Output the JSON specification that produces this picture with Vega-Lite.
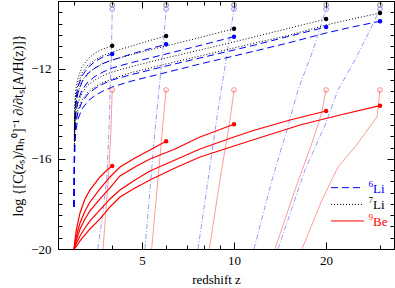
{
"$schema":"https://vega.github.io/schema/vega-lite/v6.json",
"width":336,"height":248,
"autosize":{"type":"none"},
"padding":{"left":58,"top":1,"right":1,"bottom":39},
"config":{"view":{"stroke":"#000","strokeWidth":1},"font":"Liberation Serif"},
"datasets":{
"curves":[
{"s":"li7","c":4,"z":3.007,"v":-14.721},{"s":"li7","c":4,"z":3.023,"v":-13.39},{"s":"li7","c":4,"z":3.046,"v":-12.858},{"s":"li7","c":4,"z":3.092,"v":-12.415},{"s":"li7","c":4,"z":3.186,"v":-11.927},{"s":"li7","c":4,"z":3.333,"v":-11.572},{"s":"li7","c":4,"z":3.514,"v":-11.306},{"s":"li7","c":4,"z":3.732,"v":-11.129},{"s":"li7","c":4,"z":4,"v":-10.982},
{"s":"li7","c":6,"z":3.007,"v":-14.942},{"s":"li7","c":6,"z":3.023,"v":-13.656},{"s":"li7","c":6,"z":3.046,"v":-13.124},{"s":"li7","c":6,"z":3.092,"v":-12.681},{"s":"li7","c":6,"z":3.186,"v":-12.193},{"s":"li7","c":6,"z":3.333,"v":-11.838},{"s":"li7","c":6,"z":3.514,"v":-11.616},{"s":"li7","c":6,"z":3.732,"v":-11.417},{"s":"li7","c":6,"z":4,"v":-11.262},{"s":"li7","c":6,"z":4.572,"v":-11.018},{"s":"li7","c":6,"z":5.314,"v":-10.752},{"s":"li7","c":6,"z":6,"v":-10.552},
{"s":"li7","c":10,"z":3.007,"v":-15.164},{"s":"li7","c":10,"z":3.023,"v":-13.967},{"s":"li7","c":10,"z":3.046,"v":-13.479},{"s":"li7","c":10,"z":3.092,"v":-13.035},{"s":"li7","c":10,"z":3.186,"v":-12.548},{"s":"li7","c":10,"z":3.333,"v":-12.193},{"s":"li7","c":10,"z":3.514,"v":-11.971},{"s":"li7","c":10,"z":3.732,"v":-11.772},{"s":"li7","c":10,"z":4,"v":-11.616},{"s":"li7","c":10,"z":4.572,"v":-11.395},{"s":"li7","c":10,"z":5.314,"v":-11.173},{"s":"li7","c":10,"z":6,"v":-10.996},{"s":"li7","c":10,"z":7.743,"v":-10.619},{"s":"li7","c":10,"z":10,"v":-10.228},
{"s":"li7","c":20,"z":3.007,"v":-15.386},{"s":"li7","c":20,"z":3.023,"v":-14.366},{"s":"li7","c":20,"z":3.046,"v":-13.922},{"s":"li7","c":20,"z":3.092,"v":-13.523},{"s":"li7","c":20,"z":3.186,"v":-13.08},{"s":"li7","c":20,"z":3.333,"v":-12.725},{"s":"li7","c":20,"z":3.514,"v":-12.503},{"s":"li7","c":20,"z":3.732,"v":-12.304},{"s":"li7","c":20,"z":4,"v":-12.149},{"s":"li7","c":20,"z":4.572,"v":-11.927},{"s":"li7","c":20,"z":5.314,"v":-11.705},{"s":"li7","c":20,"z":6,"v":-11.528},{"s":"li7","c":20,"z":7.743,"v":-11.173},{"s":"li7","c":20,"z":10,"v":-10.818},{"s":"li7","c":20,"z":11.713,"v":-10.583},{"s":"li7","c":20,"z":15.239,"v":-10.197},{"s":"li7","c":20,"z":20,"v":-9.798},
{"s":"li7","c":30,"z":3.007,"v":-15.608},{"s":"li7","c":30,"z":3.023,"v":-14.676},{"s":"li7","c":30,"z":3.046,"v":-14.233},{"s":"li7","c":30,"z":3.092,"v":-13.834},{"s":"li7","c":30,"z":3.186,"v":-13.39},{"s":"li7","c":30,"z":3.333,"v":-13.035},{"s":"li7","c":30,"z":3.514,"v":-12.814},{"s":"li7","c":30,"z":3.732,"v":-12.614},{"s":"li7","c":30,"z":4,"v":-12.459},{"s":"li7","c":30,"z":4.572,"v":-12.193},{"s":"li7","c":30,"z":5.314,"v":-11.971},{"s":"li7","c":30,"z":6,"v":-11.794},{"s":"li7","c":30,"z":7.743,"v":-11.439},{"s":"li7","c":30,"z":10,"v":-11.084},{"s":"li7","c":30,"z":11.713,"v":-10.863},{"s":"li7","c":30,"z":15.239,"v":-10.508},{"s":"li7","c":30,"z":20,"v":-10.064},{"s":"li7","c":30,"z":23.934,"v":-9.82},{"s":"li7","c":30,"z":30,"v":-9.532},

{"s":"li6","c":4,"z":3.0,"v":-18.135},{"s":"li6","c":4,"z":3.011,"v":-15.164},{"s":"li6","c":4,"z":3.023,"v":-13.922},{"s":"li6","c":4,"z":3.046,"v":-13.302},{"s":"li6","c":4,"z":3.092,"v":-12.814},{"s":"li6","c":4,"z":3.186,"v":-12.326},{"s":"li6","c":4,"z":3.333,"v":-11.949},{"s":"li6","c":4,"z":3.514,"v":-11.683},{"s":"li6","c":4,"z":3.732,"v":-11.483},{"s":"li6","c":4,"z":4,"v":-11.35},
{"s":"li6","c":6,"z":3.0,"v":-18.135},{"s":"li6","c":6,"z":3.011,"v":-15.386},{"s":"li6","c":6,"z":3.023,"v":-14.188},{"s":"li6","c":6,"z":3.046,"v":-13.568},{"s":"li6","c":6,"z":3.092,"v":-13.08},{"s":"li6","c":6,"z":3.186,"v":-12.592},{"s":"li6","c":6,"z":3.333,"v":-12.215},{"s":"li6","c":6,"z":3.514,"v":-11.971},{"s":"li6","c":6,"z":3.732,"v":-11.772},{"s":"li6","c":6,"z":4,"v":-11.616},{"s":"li6","c":6,"z":4.572,"v":-11.373},{"s":"li6","c":6,"z":5.314,"v":-11.115},{"s":"li6","c":6,"z":6,"v":-10.92},
{"s":"li6","c":10,"z":3.0,"v":-18.135},{"s":"li6","c":10,"z":3.011,"v":-15.608},{"s":"li6","c":10,"z":3.023,"v":-14.499},{"s":"li6","c":10,"z":3.046,"v":-13.922},{"s":"li6","c":10,"z":3.092,"v":-13.435},{"s":"li6","c":10,"z":3.186,"v":-12.947},{"s":"li6","c":10,"z":3.333,"v":-12.592},{"s":"li6","c":10,"z":3.514,"v":-12.348},{"s":"li6","c":10,"z":3.732,"v":-12.149},{"s":"li6","c":10,"z":4,"v":-11.971},{"s":"li6","c":10,"z":4.572,"v":-11.749},{"s":"li6","c":10,"z":5.314,"v":-11.528},{"s":"li6","c":10,"z":6,"v":-11.35},{"s":"li6","c":10,"z":7.743,"v":-10.973},{"s":"li6","c":10,"z":10,"v":-10.583},
{"s":"li6","c":20,"z":3.0,"v":-18.135},{"s":"li6","c":20,"z":3.011,"v":-15.962},{"s":"li6","c":20,"z":3.023,"v":-14.898},{"s":"li6","c":20,"z":3.046,"v":-14.366},{"s":"li6","c":20,"z":3.092,"v":-13.922},{"s":"li6","c":20,"z":3.186,"v":-13.479},{"s":"li6","c":20,"z":3.333,"v":-13.124},{"s":"li6","c":20,"z":3.514,"v":-12.88},{"s":"li6","c":20,"z":3.732,"v":-12.681},{"s":"li6","c":20,"z":4,"v":-12.503},{"s":"li6","c":20,"z":4.572,"v":-12.282},{"s":"li6","c":20,"z":5.314,"v":-12.06},{"s":"li6","c":20,"z":6,"v":-11.882},{"s":"li6","c":20,"z":7.743,"v":-11.528},{"s":"li6","c":20,"z":10,"v":-11.173},{"s":"li6","c":20,"z":11.713,"v":-10.951},{"s":"li6","c":20,"z":15.239,"v":-10.552},{"s":"li6","c":20,"z":20,"v":-10.153},
{"s":"li6","c":30,"z":3.0,"v":-18.135},{"s":"li6","c":30,"z":3.011,"v":-16.273},{"s":"li6","c":30,"z":3.023,"v":-15.253},{"s":"li6","c":30,"z":3.046,"v":-14.721},{"s":"li6","c":30,"z":3.092,"v":-14.233},{"s":"li6","c":30,"z":3.186,"v":-13.789},{"s":"li6","c":30,"z":3.333,"v":-13.435},{"s":"li6","c":30,"z":3.514,"v":-13.191},{"s":"li6","c":30,"z":3.732,"v":-12.991},{"s":"li6","c":30,"z":4,"v":-12.814},{"s":"li6","c":30,"z":4.572,"v":-12.57},{"s":"li6","c":30,"z":5.314,"v":-12.348},{"s":"li6","c":30,"z":6,"v":-12.171},{"s":"li6","c":30,"z":7.743,"v":-11.794},{"s":"li6","c":30,"z":10,"v":-11.439},{"s":"li6","c":30,"z":11.713,"v":-11.217},{"s":"li6","c":30,"z":15.239,"v":-10.84},{"s":"li6","c":30,"z":20,"v":-10.419},{"s":"li6","c":30,"z":23.934,"v":-10.175},{"s":"li6","c":30,"z":30,"v":-9.9},

{"s":"be9","c":4,"z":3.0,"v":-20},{"s":"be9","c":4,"z":3.023,"v":-19.599},{"s":"be9","c":4,"z":3.046,"v":-19.244},{"s":"be9","c":4,"z":3.092,"v":-18.8},{"s":"be9","c":4,"z":3.139,"v":-18.401},{"s":"be9","c":4,"z":3.259,"v":-17.78},{"s":"be9","c":4,"z":3.384,"v":-17.381},{"s":"be9","c":4,"z":3.648,"v":-16.805},{"s":"be9","c":4,"z":3.817,"v":-16.539},{"s":"be9","c":4,"z":4,"v":-16.317},
{"s":"be9","c":6,"z":3.0,"v":-20},{"s":"be9","c":6,"z":3.023,"v":-19.732},{"s":"be9","c":6,"z":3.046,"v":-19.51},{"s":"be9","c":6,"z":3.092,"v":-19.155},{"s":"be9","c":6,"z":3.139,"v":-18.845},{"s":"be9","c":6,"z":3.259,"v":-18.313},{"s":"be9","c":6,"z":3.384,"v":-17.914},{"s":"be9","c":6,"z":3.648,"v":-17.337},{"s":"be9","c":6,"z":3.933,"v":-16.805},{"s":"be9","c":6,"z":4.241,"v":-16.361},{"s":"be9","c":6,"z":4.747,"v":-15.962},{"s":"be9","c":6,"z":5.314,"v":-15.608},{"s":"be9","c":6,"z":6,"v":-15.222},
{"s":"be9","c":10,"z":3.0,"v":-20},{"s":"be9","c":10,"z":3.023,"v":-19.82},{"s":"be9","c":10,"z":3.046,"v":-19.643},{"s":"be9","c":10,"z":3.092,"v":-19.377},{"s":"be9","c":10,"z":3.139,"v":-19.111},{"s":"be9","c":10,"z":3.259,"v":-18.667},{"s":"be9","c":10,"z":3.384,"v":-18.313},{"s":"be9","c":10,"z":3.648,"v":-17.78},{"s":"be9","c":10,"z":3.933,"v":-17.293},{"s":"be9","c":10,"z":4.241,"v":-16.761},{"s":"be9","c":10,"z":4.747,"v":-16.361},{"s":"be9","c":10,"z":5.314,"v":-16.007},{"s":"be9","c":10,"z":6.414,"v":-15.563},{"s":"be9","c":10,"z":7.743,"v":-15.031},{"s":"be9","c":10,"z":10,"v":-14.468},
{"s":"be9","c":20,"z":3.0,"v":-20},{"s":"be9","c":20,"z":3.023,"v":-19.909},{"s":"be9","c":20,"z":3.046,"v":-19.777},{"s":"be9","c":20,"z":3.092,"v":-19.599},{"s":"be9","c":20,"z":3.139,"v":-19.421},{"s":"be9","c":20,"z":3.259,"v":-19.067},{"s":"be9","c":20,"z":3.384,"v":-18.756},{"s":"be9","c":20,"z":3.648,"v":-18.268},{"s":"be9","c":20,"z":3.933,"v":-17.78},{"s":"be9","c":20,"z":4.241,"v":-17.381},{"s":"be9","c":20,"z":4.747,"v":-16.938},{"s":"be9","c":20,"z":5.314,"v":-16.539},{"s":"be9","c":20,"z":6.414,"v":-16.051},{"s":"be9","c":20,"z":7.743,"v":-15.563},{"s":"be9","c":20,"z":10,"v":-15.031},{"s":"be9","c":20,"z":11.713,"v":-14.721},{"s":"be9","c":20,"z":15.239,"v":-14.277},{"s":"be9","c":20,"z":20,"v":-13.878},
{"s":"be9","c":30,"z":3.0,"v":-20},{"s":"be9","c":30,"z":3.046,"v":-19.909},{"s":"be9","c":30,"z":3.092,"v":-19.777},{"s":"be9","c":30,"z":3.139,"v":-19.643},{"s":"be9","c":30,"z":3.259,"v":-19.377},{"s":"be9","c":30,"z":3.384,"v":-19.111},{"s":"be9","c":30,"z":3.648,"v":-18.667},{"s":"be9","c":30,"z":3.933,"v":-18.135},{"s":"be9","c":30,"z":4.241,"v":-17.692},{"s":"be9","c":30,"z":4.747,"v":-17.293},{"s":"be9","c":30,"z":5.314,"v":-16.938},{"s":"be9","c":30,"z":6.414,"v":-16.406},{"s":"be9","c":30,"z":7.743,"v":-15.918},{"s":"be9","c":30,"z":10,"v":-15.43},{"s":"be9","c":30,"z":11.713,"v":-15.133},{"s":"be9","c":30,"z":16.434,"v":-14.499},{"s":"be9","c":30,"z":22.205,"v":-14.055},{"s":"be9","c":30,"z":30,"v":-13.643},

{"s":"li6v","c":4,"z":4,"v":-9.355},{"s":"li6v","c":4,"z":3.978,"v":-11.173},{"s":"li6v","c":4,"z":3.948,"v":-12.503},{"s":"li6v","c":4,"z":3.904,"v":-14.721},{"s":"li6v","c":4,"z":3.837,"v":-16.938},{"s":"li6v","c":4,"z":3.704,"v":-18.712},{"s":"li6v","c":4,"z":3.586,"v":-20},
{"s":"li6v","c":6,"z":6,"v":-9.355},{"s":"li6v","c":6,"z":5.86,"v":-11.173},{"s":"li6v","c":6,"z":5.686,"v":-12.947},{"s":"li6v","c":6,"z":5.518,"v":-14.721},{"s":"li6v","c":6,"z":5.314,"v":-17.381},{"s":"li6v","c":6,"z":5.118,"v":-20},
{"s":"li6v","c":10,"z":10,"v":-9.355},{"s":"li6v","c":10,"z":9.416,"v":-11.616},{"s":"li6v","c":10,"z":8.866,"v":-13.834},{"s":"li6v","c":10,"z":8.225,"v":-16.938},{"s":"li6v","c":10,"z":7.627,"v":-20},
{"s":"li6v","c":20,"z":20,"v":-9.355},{"s":"li6v","c":20,"z":18.123,"v":-11.173},{"s":"li6v","c":20,"z":16.187,"v":-12.947},{"s":"li6v","c":20,"z":14.899,"v":-14.721},{"s":"li6v","c":20,"z":13.31,"v":-16.938},{"s":"li6v","c":20,"z":11.625,"v":-20},
{"s":"li6v","c":30,"z":30,"v":-9.355},{"s":"li6v","c":30,"z":27.826,"v":-10.286},{"s":"li6v","c":30,"z":24.853,"v":-11.616},{"s":"li6v","c":30,"z":21.873,"v":-12.947},{"s":"li6v","c":30,"z":19.84,"v":-14.499},{"s":"li6v","c":30,"z":17.064,"v":-16.494},{"s":"li6v","c":30,"z":13.925,"v":-20},

{"s":"be9v","c":4,"z":4,"v":-12.947},{"s":"be9v","c":4,"z":3.963,"v":-14.721},{"s":"be9v","c":4,"z":3.883,"v":-16.938},{"s":"be9v","c":4,"z":3.732,"v":-20},
{"s":"be9v","c":6,"z":6,"v":-12.947},{"s":"be9v","c":6,"z":5.873,"v":-14.277},{"s":"be9v","c":6,"z":5.601,"v":-17.381},{"s":"be9v","c":6,"z":5.382,"v":-20},
{"s":"be9v","c":10,"z":10,"v":-12.947},{"s":"be9v","c":10,"z":9.704,"v":-14.277},{"s":"be9v","c":10,"z":9.001,"v":-16.938},{"s":"be9v","c":10,"z":8.306,"v":-20},
{"s":"be9v","c":20,"z":20,"v":-12.947},{"s":"be9v","c":20,"z":19.345,"v":-13.967},{"s":"be9v","c":20,"z":18.123,"v":-15.164},{"s":"be9v","c":20,"z":15.825,"v":-17.381},{"s":"be9v","c":20,"z":13.614,"v":-20},
{"s":"be9v","c":30,"z":30,"v":-12.947},{"s":"be9v","c":30,"z":29.336,"v":-14.14},{"s":"be9v","c":30,"z":24.853,"v":-15.475},{"s":"be9v","c":30,"z":21.873,"v":-16.361},{"s":"be9v","c":30,"z":19.389,"v":-17.825},{"s":"be9v","c":30,"z":16.681,"v":-20}
],
"pts":[
{"k":"o7","z":4,"v":-9.177},{"k":"o7","z":6,"v":-9.177},{"k":"o7","z":10,"v":-9.177},{"k":"o7","z":20,"v":-9.177},{"k":"o7","z":30,"v":-9.177},
{"k":"o6","z":4,"v":-9.355},{"k":"o6","z":6,"v":-9.355},{"k":"o6","z":10,"v":-9.355},{"k":"o6","z":20,"v":-9.355},{"k":"o6","z":30,"v":-9.355},
{"k":"ob","z":4,"v":-12.947},{"k":"ob","z":6,"v":-12.947},{"k":"ob","z":10,"v":-12.947},{"k":"ob","z":20,"v":-12.947},{"k":"ob","z":30,"v":-12.947},
{"k":"f7","z":4,"v":-10.982},{"k":"f7","z":6,"v":-10.552},{"k":"f7","z":10,"v":-10.228},{"k":"f7","z":20,"v":-9.798},{"k":"f7","z":30,"v":-9.532},
{"k":"f6","z":4,"v":-11.35},{"k":"f6","z":6,"v":-10.92},{"k":"f6","z":10,"v":-10.583},{"k":"f6","z":20,"v":-10.153},{"k":"f6","z":30,"v":-9.9},
{"k":"fb","z":4,"v":-16.317},{"k":"fb","z":6,"v":-15.222},{"k":"fb","z":10,"v":-14.468},{"k":"fb","z":20,"v":-13.878},{"k":"fb","z":30,"v":-13.643}
],
"leg":[
{"s":"li6","v":-17.279,"sup":"6","t":"Li"},
{"s":"li7","v":-18.024,"sup":"7","t":"Li"},
{"s":"be9","v":-18.756,"sup":"9","t":"Be"}
]
},
"resolve":{"axis":{"x":"independent","y":"independent"},"scale":{"color":"independent","strokeDash":"independent"}},
"layer":[
{"data":{"name":"curves"},"transform":[{"filter":"datum.s=='be9v'"}],
 "mark":{"type":"line","color":"#ff8080","strokeWidth":0.8},
 "encoding":{"x":{"field":"z","type":"quantitative","scale":{"type":"log","domain":[2.66,33.33],"nice":false},
   "axis":{"orient":"bottom","values":[5,10,20],"ticks":false,"domain":false,"grid":false,"labelFont":"Liberation Serif","labelFontSize":13,"labelColor":"#000","labelPadding":5,"labelFlush":false,"format":"d","title":"redshift z","titleFont":"Liberation Serif","titleFontSize":13,"titleFontWeight":"normal","titleColor":"#000","titlePadding":6,"titleX":158}},
  "y":{"field":"v","type":"quantitative","scale":{"domain":[-20,-9],"nice":false,"zero":false},
   "axis":{"orient":"left","values":[-20,-16,-12],"ticks":false,"domain":false,"grid":false,"labelFont":"Liberation Serif","labelFontSize":13,"labelColor":"#000","labelPadding":7,"labelFlush":false,"format":"d","title":"log {[C(zₛ)/nₕ⁰]⁻¹ ∂/∂tₛ[A/H(z)]}","titleFont":"Liberation Serif","titleFontSize":14,"titleFontWeight":"normal","titleColor":"#000","titlePadding":5}},
  "detail":{"field":"c"}}},
{"data":{"name":"curves"},"transform":[{"filter":"datum.s=='li6v'"}],
 "mark":{"type":"line","color":"#7f7fff","strokeWidth":0.8,"strokeDash":[5,2,1,2]},
 "encoding":{"x":{"field":"z","type":"quantitative","axis":{"orient":"bottom","values":[3,4,5,6,7,8,9,10,20,30],"labels":false,"grid":false,"domain":true,"domainColor":"#000","tickColor":"#000","tickSize":{"condition":{"test":"datum.value==5||datum.value==10||datum.value==20","value":-7},"value":-4},"title":null}},
  "y":{"field":"v","type":"quantitative","axis":{"orient":"left","values":[-20,-19.5,-19,-18.5,-18,-17.5,-17,-16.5,-16,-15.5,-15,-14.5,-14,-13.5,-13,-12.5,-12,-11.5,-11,-10.5,-10,-9.5],"labels":false,"grid":false,"domain":true,"domainColor":"#000","tickColor":"#000","tickSize":{"condition":{"test":"datum.value==-20||datum.value==-16||datum.value==-12","value":-7},"value":-4},"title":null}},
  "detail":{"field":"c"}}},
{"data":{"name":"curves"},"transform":[{"filter":"datum.s=='li6'"}],
 "mark":{"type":"line","color":"#0000ff","strokeWidth":1,"strokeDash":[7,4]},
 "encoding":{"x":{"field":"z","type":"quantitative","axis":{"orient":"top","values":[3,4,5,6,7,8,9,10,20,30],"labels":false,"grid":false,"domain":true,"domainColor":"#000","tickColor":"#000","tickSize":{"condition":{"test":"datum.value==5||datum.value==10||datum.value==20","value":-7},"value":-4},"title":null}},
  "y":{"field":"v","type":"quantitative","axis":{"orient":"right","values":[-20,-19.5,-19,-18.5,-18,-17.5,-17,-16.5,-16,-15.5,-15,-14.5,-14,-13.5,-13,-12.5,-12,-11.5,-11,-10.5,-10,-9.5],"labels":false,"grid":false,"domain":true,"domainColor":"#000","tickColor":"#000","tickSize":{"condition":{"test":"datum.value==-20||datum.value==-16||datum.value==-12","value":-7},"value":-4},"title":null}},
  "detail":{"field":"c"}}},
{"data":{"name":"curves"},"transform":[{"filter":"datum.s=='li7'"}],
 "mark":{"type":"line","color":"#000000","strokeWidth":1,"strokeDash":[1,2]},
 "encoding":{"x":{"field":"z","type":"quantitative","axis":null},"y":{"field":"v","type":"quantitative","axis":null},"detail":{"field":"c"}}},
{"data":{"name":"curves"},"transform":[{"filter":"datum.s=='be9'"}],
 "mark":{"type":"line","color":"#ff0000","strokeWidth":1.2},
 "encoding":{"x":{"field":"z","type":"quantitative","axis":null},"y":{"field":"v","type":"quantitative","axis":null},"detail":{"field":"c"}}},
{"data":{"name":"pts"},"transform":[{"filter":"datum.k[0]=='o'"}],
 "mark":{"type":"point","filled":false,"size":22,"strokeWidth":1},
 "encoding":{"x":{"field":"z","type":"quantitative","axis":null},"y":{"field":"v","type":"quantitative","axis":null},
  "color":{"field":"k","type":"nominal","scale":{"domain":["o7","o6","ob"],"range":["#555555","#6666ff","#ff5555"]},"legend":null}}},
{"data":{"name":"pts"},"transform":[{"filter":"datum.k[0]=='f'"}],
 "mark":{"type":"circle","size":20,"opacity":1},
 "encoding":{"x":{"field":"z","type":"quantitative","axis":null},"y":{"field":"v","type":"quantitative","axis":null},
  "color":{"field":"k","type":"nominal","scale":{"domain":["f7","f6","fb"],"range":["#000000","#0000ff","#ff0000"]},"legend":null}}},
{"data":{"name":"leg"},
 "mark":{"type":"rule","strokeWidth":1},
 "encoding":{"x":{"datum":20.75,"type":"quantitative","axis":null},"x2":{"datum":26.6},"y":{"field":"v","type":"quantitative","axis":null},
  "color":{"field":"s","type":"nominal","scale":{"domain":["li6","li7","be9"],"range":["#0000ff","#000000","#ff0000"]},"legend":null},
  "strokeDash":{"field":"s","type":"nominal","scale":{"domain":["li6","li7","be9"],"range":[[7,4],[1,2],[1,0]]},"legend":null}}},
{"data":{"name":"leg"},
 "mark":{"type":"text","font":"Liberation Serif","fontSize":9,"align":"right","baseline":"middle","dx":0,"dy":-4},
 "encoding":{"x":{"datum":28.46,"type":"quantitative","axis":null},"y":{"field":"v","type":"quantitative","axis":null},"text":{"field":"sup"},
  "color":{"field":"s","type":"nominal","scale":{"domain":["li6","li7","be9"],"range":["#0000ff","#000000","#ff0000"]},"legend":null}}},
{"data":{"name":"leg"},
 "mark":{"type":"text","font":"Liberation Serif","fontSize":13,"align":"left","baseline":"middle","dx":0,"dy":1},
 "encoding":{"x":{"datum":28.46,"type":"quantitative","axis":null},"y":{"field":"v","type":"quantitative","axis":null},"text":{"field":"t"},
  "color":{"field":"s","type":"nominal","scale":{"domain":["li6","li7","be9"],"range":["#0000ff","#000000","#ff0000"]},"legend":null}}}
]
}
